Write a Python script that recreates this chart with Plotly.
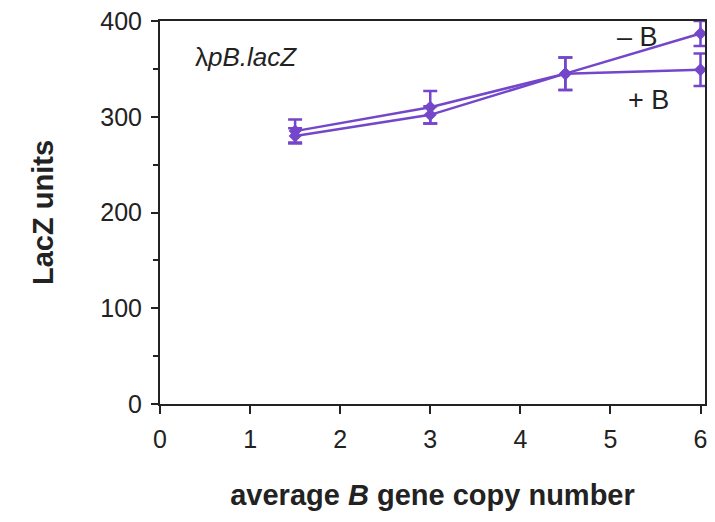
import plotly.graph_objects as go

copy_number = [1.5, 3, 4.5, 6]
minus_b = [285, 310, 345, 387]
minus_b_err = [12, 17, 17, 13]
plus_b = [280, 302, 345, 349]
plus_b_err = [8, 9, 17, 17]

x_ticks = [0, 1, 2, 3, 4, 5, 6]
y_ticks = [0, 100, 200, 300, 400]

purple = "#7446c9"

fig = go.Figure()
for ys, es, name in [(minus_b, minus_b_err, "– B"), (plus_b, plus_b_err, "+ B")]:
    fig.add_trace(go.Scatter(
        x=copy_number, y=ys, name=name, mode="lines+markers",
        line=dict(color=purple, width=2.5),
        marker=dict(symbol="diamond", size=10, color=purple),
        error_y=dict(type="data", array=es, visible=True, color=purple, thickness=2.5, width=7),
        cliponaxis=False, showlegend=False,
    ))

font_family = "Liberation Sans, Arial, sans-serif"
# page body has an 8px margin; figure sized/margined to compensate
fig.update_layout(
    width=707, height=514,
    margin=dict(l=152, r=10, t=13, b=118, autoexpand=False),
    paper_bgcolor="white", plot_bgcolor="white",
    font=dict(family=font_family, color="#222", size=25),
    xaxis=dict(range=[0, 6.05], tickvals=x_ticks, showline=True, linecolor="#222", linewidth=2,
               mirror=True, ticks="outside", ticklen=8, tickwidth=2, tickcolor="#222",
               showgrid=False, zeroline=False, tickfont=dict(size=25), ticklabelstandoff=4,
               ticklabeloverflow="allow",
               title=dict(text="<b>average <i>B</i> gene copy number</b>", font=dict(size=29), standoff=33)),
    yaxis=dict(range=[0, 400], tickvals=y_ticks, showline=True, linecolor="#222", linewidth=2,
               mirror=True, ticks="outside", ticklen=7, tickwidth=2, tickcolor="#222",
               showgrid=False, zeroline=False, tickfont=dict(size=25), ticklabelstandoff=4,
               ticklabeloverflow="allow",
               minor=dict(tickvals=[50, 150, 250, 350], ticks="outside", ticklen=5, tickwidth=2, tickcolor="#222"),
               title=dict(text="<b>LacZ units</b>", font=dict(size=29), standoff=38)),
    annotations=[
        dict(text="λ<i>pB.lacZ</i>", x=0.37, y=362, xref="x", yref="y", showarrow=False,
             xanchor="left", font=dict(size=26, color="#222")),
        dict(text="– B", x=5.3, y=383, xref="x", yref="y", showarrow=False,
             font=dict(size=27, color="#222")),
        dict(text="+ B", x=5.42, y=318, xref="x", yref="y", showarrow=False,
             font=dict(size=27, color="#222")),
    ],
)
fig.write_html("out.html")
